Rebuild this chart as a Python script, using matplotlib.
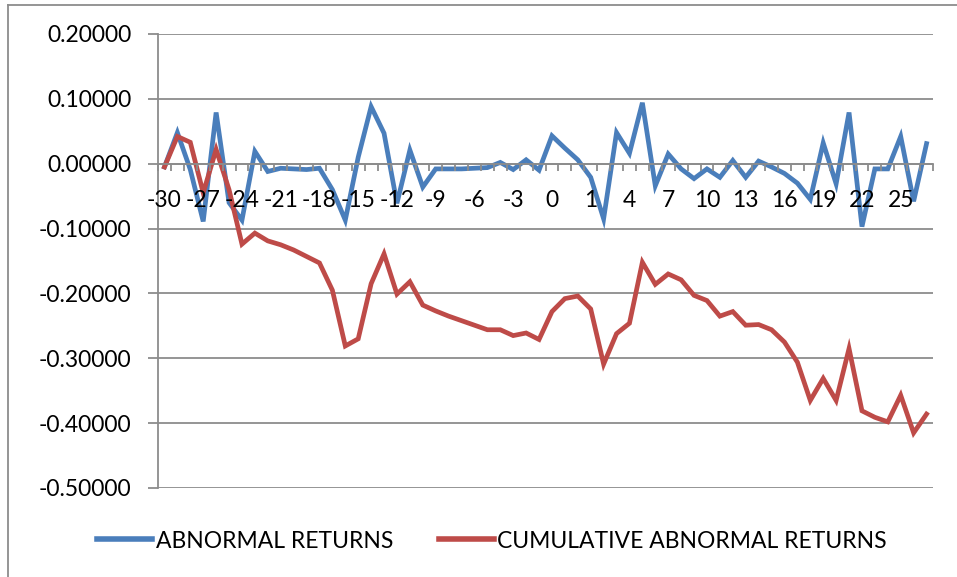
import matplotlib
matplotlib.use("Agg")
import matplotlib.pyplot as plt
from matplotlib.lines import Line2D
from matplotlib.ticker import FixedLocator, FuncFormatter

# Event-window day labels (two unlabelled slots sit between day 0 and day 1)
days = [str(d) for d in range(-30, 1)] + ["", ""] + [str(d) for d in range(1, 28)]

abnormal_returns = [
    -0.005, 0.048, -0.009, -0.089, 0.079, -0.060, -0.087, 0.019, -0.012, -0.007,
    -0.008, -0.009, -0.007, -0.040, -0.087, 0.010, 0.088, 0.047, -0.061, 0.021,
    -0.036, -0.008, -0.008, -0.008, -0.007, -0.006, 0.002, -0.009, 0.006, -0.010,
    0.043, 0.024, 0.006, -0.021, -0.085, 0.048, 0.016, 0.094, -0.034, 0.015,
    -0.008, -0.023, -0.008, -0.021, 0.005, -0.021, 0.004, -0.005, -0.015, -0.030,
    -0.055, 0.032, -0.031, 0.079, -0.097, -0.008, -0.008, 0.042, -0.058, 0.031,
]

cumulative_abnormal_returns = [
    -0.005, 0.042, 0.033, -0.045, 0.022, -0.040, -0.124, -0.107, -0.119, -0.125,
    -0.133, -0.143, -0.153, -0.195, -0.281, -0.270, -0.185, -0.139, -0.201, -0.182,
    -0.218, -0.227, -0.235, -0.242, -0.249, -0.256, -0.256, -0.265, -0.261, -0.271,
    -0.228, -0.208, -0.204, -0.224, -0.309, -0.262, -0.246, -0.152, -0.186, -0.170,
    -0.179, -0.203, -0.211, -0.235, -0.228, -0.249, -0.248, -0.256, -0.275, -0.306,
    -0.365, -0.331, -0.365, -0.285, -0.381, -0.391, -0.398, -0.357, -0.415, -0.386,
]

y_ticks = [0.2, 0.1, 0.0, -0.1, -0.2, -0.3, -0.4, -0.5]

BLUE = "#4A7EBB"
RED = "#BE4B48"
GRID = "#8C8C8C"
FONT = "Lato"

fig = plt.figure(figsize=(9.57, 5.77), dpi=100)
ax = fig.add_axes([158 / 957, 1 - 488 / 577, (933 - 158) / 957, (488 - 34) / 577])

x = list(range(len(days)))
ax.plot(x, abnormal_returns, color=BLUE, lw=3.4, solid_joinstyle="miter",
        label="ABNORMAL RETURNS", zorder=2)
ax.plot(x, cumulative_abnormal_returns, color=RED, lw=3.4, solid_joinstyle="miter",
        label="CUMULATIVE ABNORMAL RETURNS", zorder=2)

ax.set_xlim(-0.5, len(days) - 0.5)
ax.set_ylim(-0.5, 0.2)

# Horizontal gridlines beneath the series; axis (with its labels) above them
for yv in y_ticks:
    ax.axhline(yv, color=GRID, lw=1.3, zorder=1)
ax.set_axisbelow(False)

ax.yaxis.set_major_locator(FixedLocator(y_ticks))
ax.yaxis.set_major_formatter(FuncFormatter(lambda v, p: f"{v:.5f}"))
ax.tick_params(axis="y", length=7, width=1.3, color=GRID, pad=12,
               labelsize=16.5, labelcolor="black")

# Category axis crossing at zero, labels every third day
ax.spines["bottom"].set_position(("data", 0))
ax.spines["bottom"].set_color(GRID)
ax.spines["bottom"].set_linewidth(1.3)
ax.spines["left"].set_color(GRID)
ax.spines["left"].set_linewidth(1.3)
ax.spines["top"].set_visible(False)
ax.spines["right"].set_visible(False)

ax.xaxis.set_major_locator(FixedLocator(x[::3]))
ax.set_xticklabels(days[::3])
ax.xaxis.set_minor_locator(FixedLocator([i - 0.5 for i in range(len(days) + 1)]))
ax.tick_params(axis="x", which="major", length=0, pad=19, labelsize=16.5)
ax.tick_params(axis="x", which="minor", length=5, width=1.3, color=GRID, direction="out")
for lab in ax.get_xticklabels() + ax.get_yticklabels():
    lab.set_fontfamily(FONT)

leg = fig.legend(loc="center", bbox_to_anchor=(492 / 957, 1 - 541 / 577), ncol=2,
                 frameon=False, prop={"family": FONT, "size": 16.5},
                 handlelength=2.4, handletextpad=0.15, columnspacing=2.0)
for h in leg.get_lines():
    h.set_linewidth(4)

# Chart frame
fig.add_artist(Line2D([8 / 957, 8 / 957], [0, 1 - 5 / 577], transform=fig.transFigure,
                      color=GRID, lw=1.3))
fig.add_artist(Line2D([8 / 957, 1], [1 - 5 / 577, 1 - 5 / 577], transform=fig.transFigure,
                      color=GRID, lw=1.3))

fig.savefig("out.png", dpi=100)
